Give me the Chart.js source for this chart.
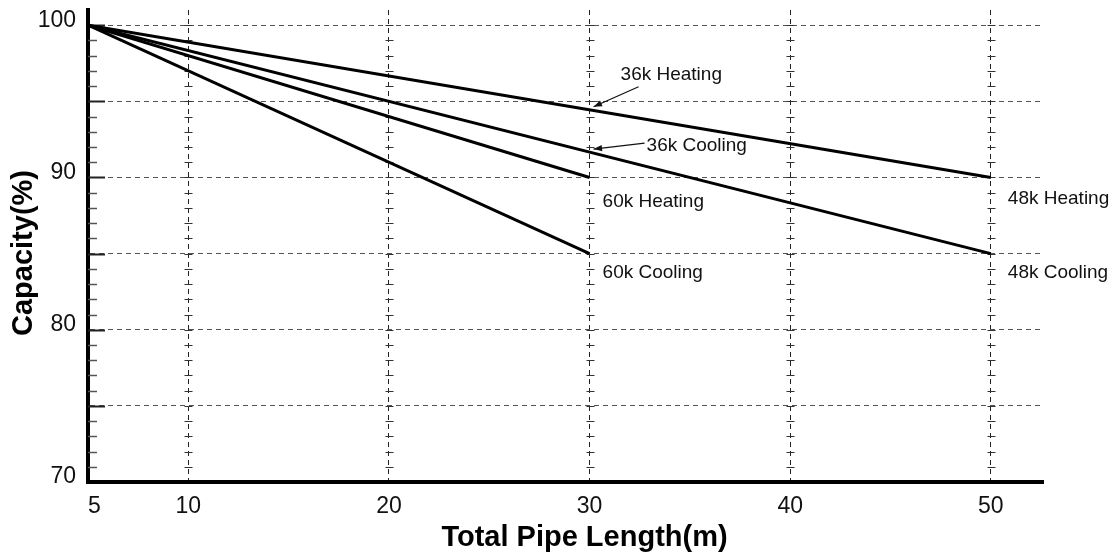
<!DOCTYPE html>
<html>
<head>
<meta charset="utf-8">
<script src="https://cdn.jsdelivr.net/npm/chart.js@4.4.0/dist/chart.umd.min.js"></script>
<style>
html, body { margin: 0; padding: 0; background: #fff; }
</style>
</head>
<body>
<canvas id="capacityChart" width="1114" height="559"></canvas>
<script>
// 刻度
const lengthTicks = [5, 10, 20, 30, 40, 50];
const capacityTicks = [70, 75, 80, 85, 90, 95, 100];

// 配管长度 (m)
const lengths48k = [5, 50];
const lengths60k = [5, 30];

// 能力 (%)
const heating48k = [100, 90];
const cooling48k = [100, 85];
const heating60k = [100, 90];
const cooling60k = [100, 85];

const FONT = '"Liberation Sans", Arial, sans-serif';
const X_MAX = 52.6;

function toPoints(xs, ys) {
    return xs.map(function(x, i) { return { x: x, y: ys[i] }; });
}

function lineSet(label, xs, ys) {
    return {
        label: label,
        data: toPoints(xs, ys),
        borderColor: '#000',
        borderWidth: 3,
        pointRadius: 0,
        tension: 0,
        fill: false
    };
}

// 标注: 文字, 所属曲线, 锚点x, 偏移
const notes = [
    { text: '48k Heating', set: 0, at: 50, dx: 17, dy: 21 },
    { text: '48k Cooling', set: 1, at: 50, dx: 17, dy: 19 },
    { text: '60k Heating', set: 2, at: 30, dx: 13, dy: 24 },
    { text: '60k Cooling', set: 3, at: 30, dx: 13, dy: 19 },
    { text: '36k Heating', set: 0, at: 30, dx: 31, dy: -35, arrow: [49, -23] },
    { text: '36k Cooling', set: 1, at: 30, dx: 57, dy: -6, arrow: [55, -9] }
];

function valueOn(ds, x) {
    const p = ds.data;
    const a = p[0], b = p[p.length - 1];
    return a.y + (b.y - a.y) * (x - a.x) / (b.x - a.x);
}

const decoPlugin = {
    id: 'deco',
    beforeDatasetsDraw: function(chart) {
        const ctx = chart.ctx;
        const xs = chart.scales.x, ys = chart.scales.y;
        const left = chart.chartArea.left;
        ctx.save();
        for (let v = 71; v <= 100; v++) {
            const py = Math.round(ys.getPixelForValue(v)) + 0.5;
            const major = v % 5 === 0;
            // y 轴内侧刻度
            ctx.strokeStyle = major ? '#222' : '#555';
            ctx.lineWidth = major ? 2 : 1.5;
            ctx.beginPath();
            ctx.moveTo(left, py);
            ctx.lineTo(left + (major ? 17 : 9), py);
            ctx.stroke();
            // 竖向网格上的小刻度
            ctx.strokeStyle = '#333';
            ctx.lineWidth = 1;
            lengthTicks.slice(1).forEach(function(t) {
                const px = Math.round(xs.getPixelForValue(t)) + 0.5;
                ctx.beginPath();
                ctx.moveTo(px - 4, py);
                ctx.lineTo(px + 4, py);
                ctx.stroke();
            });
        }
        ctx.restore();
    },
    afterDraw: function(chart) {
        const ctx = chart.ctx;
        const xs = chart.scales.x, ys = chart.scales.y;
        const area = chart.chartArea;
        ctx.save();
        // 坐标轴标题
        ctx.fillStyle = '#000';
        ctx.font = 'bold 29px ' + FONT;
        ctx.textAlign = 'center';
        ctx.textBaseline = 'middle';
        ctx.fillText('Total Pipe Length(m)', (area.left + area.right) / 2 + 19, 538);
        ctx.save();
        ctx.translate(24, 253);
        ctx.rotate(-Math.PI / 2);
        ctx.fillText('Capacity(%)', 0, 0);
        ctx.restore();

        // 曲线标注
        ctx.font = '19px ' + FONT;
        ctx.fillStyle = '#111';
        ctx.textAlign = 'left';
        notes.forEach(function(n) {
            const ds = chart.data.datasets[n.set];
            const px = xs.getPixelForValue(n.at);
            const py = ys.getPixelForValue(valueOn(ds, n.at));
            ctx.fillText(n.text, px + n.dx, py + n.dy);
            if (n.arrow) {
                const tipX = px + 4, tipY = py - 3;
                const tailX = px + n.arrow[0], tailY = py + n.arrow[1];
                const ang = Math.atan2(tipY - tailY, tipX - tailX);
                ctx.strokeStyle = '#111';
                ctx.lineWidth = 1.2;
                ctx.beginPath();
                ctx.moveTo(tailX, tailY);
                ctx.lineTo(tipX, tipY);
                ctx.stroke();
                ctx.beginPath();
                ctx.moveTo(tipX, tipY);
                ctx.lineTo(tipX - 9 * Math.cos(ang - 0.35), tipY - 9 * Math.sin(ang - 0.35));
                ctx.lineTo(tipX - 9 * Math.cos(ang + 0.35), tipY - 9 * Math.sin(ang + 0.35));
                ctx.closePath();
                ctx.fill();
            }
        });
        ctx.restore();
    }
};

new Chart(document.getElementById('capacityChart').getContext('2d'), {
    type: 'line',
    data: {
        datasets: [
            lineSet('48k Heating', lengths48k, heating48k),
            lineSet('48k Cooling', lengths48k, cooling48k),
            lineSet('60k Heating', lengths60k, heating60k),
            lineSet('60k Cooling', lengths60k, cooling60k)
        ]
    },
    options: {
        responsive: false,
        devicePixelRatio: 1,
        animation: false,
        layout: { padding: { top: 10, right: 71, left: 0, bottom: 0 } },
        plugins: {
            legend: { display: false },
            tooltip: { enabled: false }
        },
        scales: {
            x: {
                type: 'linear',
                min: 5,
                max: X_MAX,
                afterBuildTicks: function(scale) {
                    // 末尾加一个空刻度, 让 inner 对齐只作用于 "5"
                    scale.ticks = lengthTicks.concat([X_MAX]).map(function(v) { return { value: v }; });
                },
                afterFit: function(scale) { scale.height = 77; },
                ticks: {
                    color: '#111',
                    font: { family: FONT, size: 23 },
                    padding: 11,
                    align: 'inner',
                    maxRotation: 0,
                    autoSkip: false,
                    callback: function(value) {
                        return lengthTicks.indexOf(value) >= 0 ? value : '';
                    }
                },
                grid: {
                    color: function(c) {
                        return c.tick && c.tick.value === X_MAX ? 'rgba(0,0,0,0)' : '#222';
                    },
                    lineWidth: 1,
                    drawTicks: false
                },
                border: { display: true, color: '#000', width: 4, dash: [5, 4] },
                title: { display: false }
            },
            y: {
                type: 'linear',
                min: 70,
                max: 101,
                afterBuildTicks: function(scale) {
                    scale.ticks = capacityTicks.map(function(v) { return { value: v }; });
                },
                afterFit: function(scale) { scale.width = 88; },
                ticks: {
                    color: '#111',
                    font: { family: FONT, size: 23, lineHeight: 0.8 },
                    padding: 0,
                    labelOffset: -5,
                    callback: function(value) {
                        return value % 10 === 0 ? value : '';
                    }
                },
                grid: {
                    color: '#555',
                    lineWidth: 1,
                    drawTicks: true,
                    tickLength: 12,
                    tickColor: 'rgba(0,0,0,0)'
                },
                border: { display: true, color: '#000', width: 4, dash: [5, 4] },
                title: { display: false }
            }
        }
    },
    plugins: [decoPlugin]
});
</script>
</body>
</html>
